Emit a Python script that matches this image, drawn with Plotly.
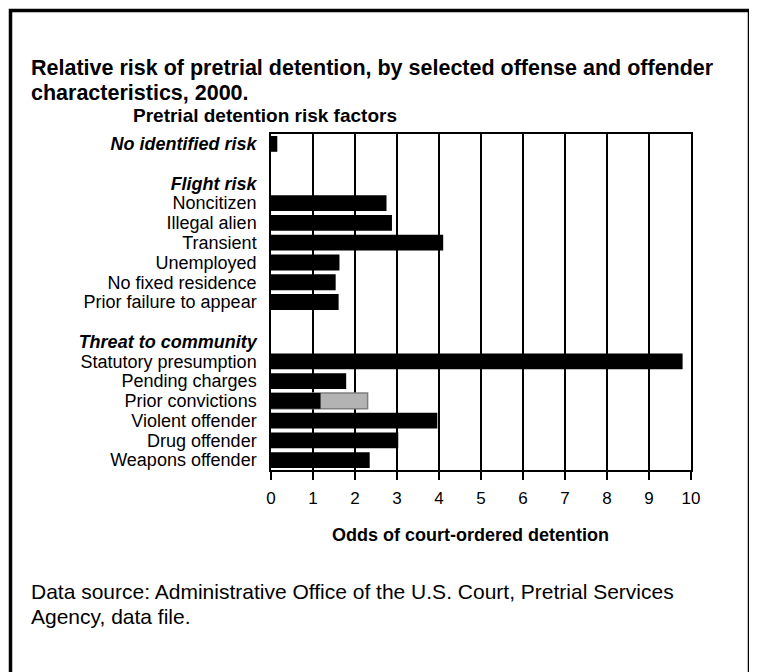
import plotly.graph_objects as go

# ---- data ----
categories = ["No identified risk", "", "Flight risk", "Noncitizen", "Illegal alien",
              "Transient", "Unemployed", "No fixed residence", "Prior failure to appear",
              "", "Threat to community", "Statutory presumption", "Pending charges",
              "Prior convictions", "Violent offender", "Drug offender", "Weapons offender"]
headers = {"No identified risk", "Flight risk", "Threat to community"}
odds = [0.15, None, None, 2.75, 2.88, 4.1, 1.63, 1.54, 1.61,
        None, None, 9.8, 1.79, 1.18, 3.96, 3.03, 2.35]
# second (grey) segment: prior convictions upper value
odds_upper = [None] * 13 + [2.3] + [None] * 3
x_ticks = list(range(0, 11))

OX, OY = 8, 8          # page body margin
W, H = 757 - OX, 672 - OY
L, R, T, B = 271 - OX, 691 - OX, 134 - OY, 470 - OY  # plot area in figure pixels

def px(x):
    return (x - OX - L) / (R - L)

def py(y):
    return (B - (y - OY)) / (B - T)

rows = list(range(len(categories)))
ticktext = [f"<b><i>{c}</i></b>" if c in headers else c for c in categories]

fig = go.Figure()
fig.add_trace(go.Bar(y=rows, x=odds_upper, orientation="h", width=0.8,
                     marker=dict(color="#b3b3b3", line=dict(color="#7f7f7f", width=1.5)),
                     showlegend=False, hoverinfo="x"))
fig.add_trace(go.Bar(y=rows, x=odds, orientation="h", width=0.8,
                     marker=dict(color="black", line=dict(width=0)),
                     showlegend=False, hoverinfo="x"))

FONT = "Liberation Sans, Arial, sans-serif"

def note(text, x, y, size, xanchor="left"):
    return dict(text=text, xref="paper", yref="paper", x=px(x), y=py(y),
                xanchor=xanchor, yanchor="middle", align="left", showarrow=False,
                font=dict(size=size))

fig.update_layout(
    width=W, height=H, barmode="overlay",
    margin=dict(l=L, r=W - R, t=T, b=H - B),
    paper_bgcolor="white", plot_bgcolor="white",
    font=dict(family=FONT, color="black", size=18),
    xaxis=dict(range=[0, 10], tickvals=x_ticks, showgrid=True, gridcolor="black",
               gridwidth=1.5, showline=True, linecolor="black", linewidth=1.5,
               mirror=True, ticks="outside", ticklen=8, tickwidth=1.5, tickcolor="black",
               ticklabelstandoff=4, tickfont=dict(size=17), zeroline=False, fixedrange=True),
    yaxis=dict(range=[len(categories) - 0.5, -0.5], tickvals=rows, ticktext=ticktext,
               showgrid=False, showline=True, linecolor="black", linewidth=1.5,
               mirror=True, ticks="", ticklabelstandoff=9, tickfont=dict(size=18),
               zeroline=False, fixedrange=True),
    annotations=[
        note("<b>Relative risk of pretrial detention, by selected offense and offender</b>", 29, 68, 21.5),
        note("<b>characteristics, 2000.</b>", 29, 93, 21.5),
        note("<b>Pretrial detention risk factors</b>", 131, 116, 19),
        note("<b>Odds of court-ordered detention</b>", 470, 535, 18, xanchor="center"),
        note("Data source: Administrative Office of the U.S. Court, Pretrial Services", 29, 591, 21),
        note("Agency, data file.", 29, 616, 21),
    ],
    shapes=[
        dict(type="rect", xref="paper", yref="paper", x0=px(10.5), x1=px(749.5),
             y0=py(700), y1=py(10.5), line=dict(color="black", width=3.5)),
    ],
)

fig.write_html("out.html")
